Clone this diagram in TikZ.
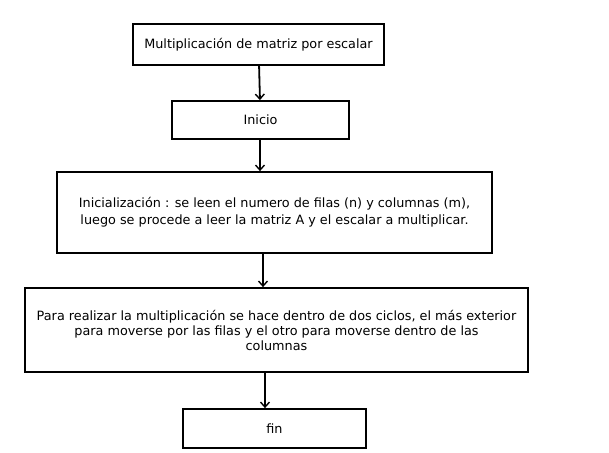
\documentclass[tikz,border=0pt]{standalone}
\usepackage{fontspec}
\setmainfont{DejaVu Sans}
\usetikzlibrary{arrows.meta}
\begin{document}
\begin{tikzpicture}[x=1pt,y=-1pt]
\tikzstyle{paso}=[draw=black,line width=1.8pt,rectangle,inner sep=0pt,align=center,font=\fontsize{12.8}{15}\selectfont]
\tikzstyle{flecha}=[draw=black,line width=1.8pt,-{Straight Barb[length=5pt,width=9pt,line width=1.4pt]}]
\useasboundingbox (0,0) rectangle (609,452);
\node [paso,minimum width=251pt,minimum height=41pt] (titulo) at (258.5,44.5) {Multiplicación de matriz por escalar};
\node [paso,minimum width=177pt,minimum height=38pt] (inicio) at (260.5,120) {Inicio};
\node [paso,minimum width=435pt,minimum height=81pt,font=\fontsize{12.8}{17}\selectfont] (lectura) at (274.5,212.5) {Inicialización : se leen el numero de filas (n) y columnas (m),\\luego se procede a leer la matriz A y el escalar a multiplicar.};
\node [paso,minimum width=503pt,minimum height=84pt] (ciclos) at (276.5,330) {\raisebox{-3pt}{\parbox{503pt}{\centering Para realizar la multiplicación se hace dentro de dos ciclos, el más exterior\\para moverse por las filas y el otro para moverse dentro de las\\columnas}}};
\node [paso,minimum width=183pt,minimum height=39pt] (fin) at (274.5,428.5) {fin};
\draw [flecha] (titulo) -- (inicio);
\draw [flecha] ([xshift=-0.5pt]inicio.south) -- ([xshift=-0.5pt]inicio.south |- lectura.north);
\draw [flecha] ([xshift=-11.5pt]lectura.south) -- ([xshift=-11.5pt]lectura.south |- ciclos.north);
\draw [flecha] ([xshift=-11.5pt]ciclos.south) -- ([xshift=-11.5pt]ciclos.south |- fin.north);
\end{tikzpicture}
\end{document}
